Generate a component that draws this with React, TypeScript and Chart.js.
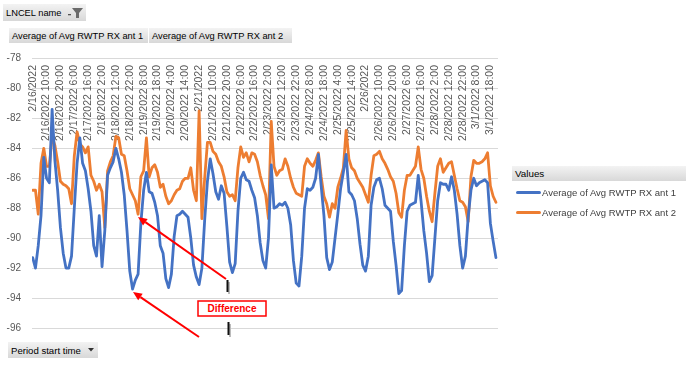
import React, { useEffect, useRef } from 'react';
import { Chart, registerables } from 'chart.js';

Chart.register(...registerables);

// x tick labels (every 10 hours)
const tickLabels = [
  '2/16/2022', '2/16/2022 10:00', '2/16/2022 20:00', '2/17/2022 6:00', '2/17/2022 16:00',
  '2/18/2022 2:00', '2/18/2022 12:00', '2/18/2022 22:00', '2/19/2022 8:00', '2/19/2022 18:00',
  '2/20/2022 4:00', '2/20/2022 14:00', '2/21/2022', '2/21/2022 10:00', '2/21/2022 20:00',
  '2/22/2022 6:00', '2/22/2022 16:00', '2/23/2022 2:00', '2/23/2022 12:00', '2/23/2022 22:00',
  '2/24/2022 8:00', '2/24/2022 18:00', '2/25/2022 4:00', '2/25/2022 14:00', '2/26/2022',
  '2/26/2022 10:00', '2/26/2022 20:00', '2/27/2022 6:00', '2/27/2022 16:00', '2/28/2022 2:00',
  '2/28/2022 12:00', '2/28/2022 22:00', '3/1/2022 8:00', '3/1/2022 18:00',
];
// hour offsets (from 2/16/2022 0:00) of the tick labels
const tickHours = [
  0, 10, 20, 30, 40, 50, 60, 70, 80, 90, 100, 110, 120, 130, 140, 150, 160,
  170, 180, 190, 200, 210, 220, 230, 240, 250, 260, 270, 280, 290, 300, 310, 320, 330,
];

// Series sampled every 2 hours starting 2/16/2022 0:00
const ant1 = [
  -91.3, -92.0, -90.5, -88.5, -84.6, -86.0, -86.3, -81.4, -84.8, -86.8,
  -89.3, -91.0, -92.0, -92.0, -91.2, -88.0, -85.0, -83.3, -85.0, -85.5,
  -86.7, -88.2, -90.5, -91.2, -88.5, -91.9, -89.5, -85.8, -85.3, -84.9,
  -84.0, -84.7, -85.6, -87.1, -89.5, -92.2, -93.4, -92.8, -92.4, -89.0,
  -86.8, -85.6, -86.9, -87.0, -87.6, -88.5, -90.5, -91.0, -92.7, -93.3,
  -92.4, -89.9, -88.5, -88.4, -88.2, -88.4, -88.6, -90.0, -91.8, -92.6,
  -93.1, -92.0, -88.8, -86.2, -84.7, -85.7, -86.9, -87.4, -86.5, -87.0,
  -89.2, -91.6, -92.3, -91.7, -88.2, -86.0, -85.6, -86.1, -86.2, -86.8,
  -87.3, -88.5, -90.3, -91.5, -92.0, -90.0, -85.1, -88.0, -87.9, -87.7,
  -87.8, -87.6, -88.0, -89.1, -91.5, -93.0, -93.2, -91.2, -88.0, -86.7,
  -86.8, -86.6, -86.0, -84.4, -86.5, -88.5, -91.3, -92.1, -91.6, -90.0,
  -88.4, -86.7, -85.6, -84.4, -86.9, -87.1, -87.5, -88.7, -90.4, -91.8,
  -92.2, -91.2, -87.8, -86.6, -86.1, -86.0, -86.7, -87.8, -88.0, -88.2,
  -90.2, -91.8, -93.7, -93.5, -90.5, -88.2, -87.8, -87.7, -87.6, -85.8,
  -87.5, -89.5, -91.0, -92.9, -92.5, -90.0, -87.5, -86.3, -86.4, -86.4,
  -86.8, -85.9, -86.8, -88.4, -90.5, -92.0, -91.2, -88.6, -86.8, -86.0,
  -86.5, -86.3, -86.2, -86.1, -86.3, -89.0, -90.2, -91.3,
];
const ant2 = [
  -86.8, -86.8, -88.4, -85.0, -84.0, -85.2, -85.2, -83.2, -83.8, -84.9,
  -86.2, -86.4, -86.5, -86.7, -87.7, -84.5, -82.9, -83.7, -83.9, -84.3,
  -83.9, -85.8, -86.2, -86.8, -86.4, -86.9, -89.3, -85.5, -84.9, -84.5,
  -83.2, -83.3, -84.4, -84.5, -85.5, -86.7, -87.1, -87.5, -88.4, -85.9,
  -85.5, -83.3, -85.9, -85.3, -85.1, -85.6, -86.6, -86.4, -87.2, -87.7,
  -87.5, -87.1, -86.8, -86.7, -86.2, -86.0, -86.0, -85.3, -86.8, -87.5,
  -81.5, -88.7, -86.0, -83.6, -83.6, -84.2, -84.4, -84.9, -85.2, -85.9,
  -86.9, -87.2, -87.1, -87.5, -85.3, -83.9, -84.6, -84.3, -84.9, -84.3,
  -84.4, -84.9, -85.8, -86.5, -87.1, -88.7, -82.2, -85.2, -85.8, -85.5,
  -85.4, -84.7, -85.2, -86.0, -86.6, -87.0, -87.1, -87.2, -85.2, -84.7,
  -85.0, -85.2, -84.8, -84.3, -85.9, -87.2, -87.7, -88.6, -87.7, -88.0,
  -86.6, -86.0, -85.3, -82.8, -84.7, -85.3, -85.5, -86.0, -86.3, -86.6,
  -87.1, -87.6, -85.8, -84.5, -84.4, -84.2, -84.7, -85.0, -85.4, -85.9,
  -86.2, -87.0, -88.3, -88.6, -86.8, -85.8, -85.8, -85.5, -85.2, -83.9,
  -85.4, -86.0, -87.2, -88.2, -88.9, -87.0, -85.2, -84.7, -85.6, -85.3,
  -85.0, -84.9, -85.8, -86.7, -87.5, -87.6, -87.9, -88.9, -85.9, -84.8,
  -85.0, -85.0, -84.9, -84.7, -84.3, -86.5, -87.2, -87.6,
];
const sampleHours = ant1.map((_, i) => i * 2);

const seriesNames = ['Average of Avg RWTP RX ant 1', 'Average of Avg RWTP RX ant 2'];
const seriesColors = ['#4472C4', '#ED7D31'];

const FONT = "'Liberation Sans', Arial, sans-serif";

const xLabelPlugin = {
  id: 'insideXLabels',
  beforeDatasetsDraw(chart: any) {
    const { ctx, chartArea, scales } = chart;
    ctx.save();
    ctx.fillStyle = '#595959';
    ctx.font = `10.5px ${FONT}`;
    ctx.textAlign = 'right';
    ctx.textBaseline = 'middle';
    tickLabels.forEach((lab, i) => {
      const x = scales.x.getPixelForValue(tickHours[i]);
      ctx.save();
      ctx.translate(x, chartArea.top + 6.5);
      ctx.rotate(-Math.PI / 2);
      ctx.fillText(lab, 0, 0);
      ctx.restore();
    });
    ctx.restore();
  },
};

const arrows = [
  { from: [226, 279], to: [138, 217] },
  { from: [199, 337], to: [133, 292] },
];

function arrowGeom(from: number[], to: number[]) {
  const dx = to[0] - from[0];
  const dy = to[1] - from[1];
  const L = Math.hypot(dx, dy);
  const ux = dx / L, uy = dy / L;
  const len = 9, hw = 4;
  const bx = to[0] - ux * len, by = to[1] - uy * len;
  return {
    base: [bx, by],
    pts: `${to[0]},${to[1]} ${bx - uy * hw},${by + ux * hw} ${bx + uy * hw},${by - ux * hw}`,
  };
}

const btn: React.CSSProperties = {
  position: 'absolute',
  background: 'linear-gradient(#f3f3f3, #d8d8d8)',
  fontFamily: FONT,
  fontSize: 9.3,
  color: '#000',
  display: 'flex',
  alignItems: 'center',
  boxSizing: 'border-box',
  whiteSpace: 'nowrap',
  overflow: 'hidden',
};

export default function App() {
  const canvasRef = useRef<HTMLCanvasElement | null>(null);

  useEffect(() => {
    const canvas = canvasRef.current;
    if (!canvas) return;
    const chart = new Chart(canvas, {
      type: 'line',
      data: {
        datasets: [ant1, ant2].map((vals, k) => ({
          label: seriesNames[k],
          data: vals.map((v, i) => ({ x: sampleHours[i], y: v })),
          borderColor: seriesColors[k],
          backgroundColor: seriesColors[k],
          borderWidth: 2.8,
          pointRadius: 0,
          tension: 0,
          borderJoinStyle: 'round',
          borderCapStyle: 'round',
          fill: false,
        })),
      },
      options: {
        responsive: false,
        animation: false,
        events: [],
        layout: { padding: { left: 0, right: 192, top: 58.5, bottom: 37 } },
        plugins: { legend: { display: false }, tooltip: { enabled: false } },
        scales: {
          x: { type: 'linear', min: -0.5, max: 335.5, display: false },
          y: {
            min: -96,
            max: -78,
            ticks: {
              stepSize: 2,
              color: '#595959',
              font: { family: FONT, size: 10 },
              padding: 11,
            },
            grid: { color: '#d9d9d9', drawTicks: false, lineWidth: 1 },
            border: { display: false },
            afterFit: (s: any) => {
              s.width = 32;
            },
          },
        },
      } as any,
      plugins: [xLabelPlugin],
    });
    return () => chart.destroy();
  }, []);

  return (
    <div
      style={{
        position: 'fixed',
        left: 0,
        top: 0,
        width: 690,
        height: 365,
        background: '#fff',
        overflow: 'hidden',
      }}
    >
      <canvas
        ref={canvasRef}
        width={690}
        height={365}
        style={{ position: 'absolute', left: 0, top: 0, width: 690, height: 365 }}
      />

      {/* Pivot field buttons */}
      <div style={{ ...btn, left: 3, top: 4, width: 83, height: 17, paddingLeft: 3 }}>
        LNCEL name
        <svg width="18" height="14" style={{ position: 'absolute', left: 64, top: 2 }}>
          <rect x="1" y="8" width="3" height="1.3" fill="#555" />
          <polygon points="5,2 16,2 12,7 12,12 9,12 9,7" fill="#6a6a6a" />
        </svg>
      </div>
      <div style={{ ...btn, left: 9, top: 28, width: 139, height: 15, paddingLeft: 3 }}>
        {seriesNames[0]}
      </div>
      <div style={{ ...btn, left: 149, top: 28, width: 143, height: 15, paddingLeft: 3 }}>
        {seriesNames[1]}
      </div>
      <div style={{ ...btn, left: 8, top: 342, width: 90, height: 16, paddingLeft: 3, fontSize: 9.6 }}>
        Period start time
        <svg width="8" height="6" style={{ position: 'absolute', left: 80, top: 6 }}>
          <polygon points="0,0 6,0 3,3.5" fill="#333" />
        </svg>
      </div>

      {/* Legend */}
      <div style={{ ...btn, left: 512, top: 166, width: 174, height: 15, paddingLeft: 3, fontSize: 9.8 }}>
        Values
      </div>
      {seriesNames.map((name, k) => (
        <div
          key={name}
          style={{
            position: 'absolute',
            left: 516,
            top: 185 + k * 20,
            height: 14,
            display: 'flex',
            alignItems: 'center',
            fontFamily: FONT,
            fontSize: 9.5,
            color: '#404040',
            whiteSpace: 'nowrap',
          }}
        >
          <span
            style={{
              display: 'inline-block',
              width: 25,
              height: 3,
              borderRadius: 1.5,
              background: seriesColors[k],
              marginRight: 1,
            }}
          />
          {name}
        </div>
      ))}

      {/* Annotations */}
      <svg
        width={690}
        height={365}
        style={{ position: 'absolute', left: 0, top: 0, pointerEvents: 'none' }}
      >
        {arrows.map((a, i) => {
          const g = arrowGeom(a.from, a.to);
          return (
            <g key={i}>
              <line
                x1={a.from[0]}
                y1={a.from[1]}
                x2={g.base[0]}
                y2={g.base[1]}
                stroke="#ff0000"
                strokeWidth={2}
              />
              <polygon points={g.pts} fill="#ff0000" />
            </g>
          );
        })}
        <rect x={228} y={282} width={2} height={12} fill="#bbb" />
        <rect x={226.5} y={280} width={2} height={12} fill="#111" />
        <rect x={229} y={324} width={2} height={13} fill="#bbb" />
        <rect x={227.5} y={322} width={2} height={13} fill="#111" />
        <rect x={198} y={301} width={68} height={15} fill="#fff" stroke="#ff0000" strokeWidth={1.5} />
        <text
          x={232}
          y={312}
          textAnchor="middle"
          fontFamily={FONT}
          fontWeight="bold"
          fontSize={10}
          fill="#ff0000"
        >
          Difference
        </text>
      </svg>
    </div>
  );
}
